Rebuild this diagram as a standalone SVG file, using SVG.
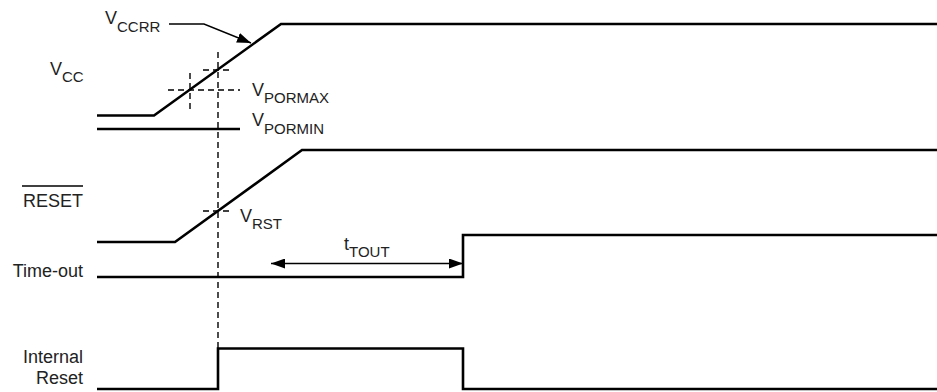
<svg xmlns="http://www.w3.org/2000/svg" width="937" height="392" viewBox="0 0 937 392">
<style>
.sig{fill:none;stroke:#000;stroke-width:2.6;stroke-linejoin:miter}
.dash{fill:none;stroke:#000;stroke-width:1.4;stroke-dasharray:6 4}
.thin{fill:none;stroke:#000;stroke-width:1.4}
.lbl{font-family:"Liberation Sans",Arial,sans-serif;font-size:18px;fill:#222}
.sub{font-size:15px}
</style>
<defs>
<marker id="ah" viewBox="0 0 14 10" refX="14" refY="5" markerWidth="14" markerHeight="10" markerUnits="userSpaceOnUse" orient="auto-start-reverse">
<path d="M0,0 L14,5 L0,10 z" fill="#000"/>
</marker>
</defs>
<rect width="937" height="392" fill="#fff"/>
<g id="vcc">
<polyline class="sig" points="97,115.5 154,115.5 281,24 937,24"/>
<text class="lbl" x="50" y="75">V<tspan class="sub" dy="7">CC</tspan></text>
</g>
<g id="vccrr">
<text class="lbl" x="105" y="24">V<tspan class="sub" dy="7.5">CCRR</tspan></text>
</g>
<g id="vpormin">
<line class="sig" x1="97" y1="129" x2="240" y2="129"/>
<text class="lbl" x="252" y="126">V<tspan class="sub" dy="8">PORMIN</tspan></text>
</g>
<g id="vpormax">
<text class="lbl" x="252" y="96">V<tspan class="sub" dy="6.5">PORMAX</tspan></text>
</g>
<g id="reset">
<polyline class="sig" points="97,242 175,242 302,150 937,150"/>
<text class="lbl" x="83" y="207" text-anchor="end">RESET</text>
<line class="thin" x1="22" y1="186" x2="83" y2="186"/>
</g>
<g id="vrst">
<text class="lbl" x="240" y="221.5">V<tspan class="sub" dy="7">RST</tspan></text>
</g>
<g id="timeout">
<polyline class="sig" points="97,277 463,277 463,235 937,235"/>
<text class="lbl" x="83" y="277" text-anchor="end">Time-out</text>
</g>
<g id="ttout">
<text class="lbl" x="344" y="250">t<tspan class="sub" dy="7">TOUT</tspan></text>
</g>
<g id="internal">
<polyline class="sig" points="97,389 218,389 218,348.5 463,348.5 463,389 937,389"/>
<text class="lbl" x="83" y="363" text-anchor="end">Internal</text>
<text class="lbl" x="83" y="384" text-anchor="end">Reset</text>
</g>
<g id="connectors">
<polyline class="thin" points="169,24 204,24 251,43" marker-end="url(#ah)"/>
<line class="thin" x1="271" y1="263.5" x2="463" y2="263.5" marker-start="url(#ah)" marker-end="url(#ah)"/>
<line class="dash" x1="190" y1="73" x2="190" y2="110"/>
<line class="dash" x1="168" y1="90" x2="240" y2="90"/>
<line class="dash" x1="218" y1="52" x2="218" y2="348"/>
<line class="dash" x1="203" y1="70" x2="232" y2="70"/>
<line class="dash" x1="203" y1="211" x2="232" y2="211"/>
</g>
</svg>
